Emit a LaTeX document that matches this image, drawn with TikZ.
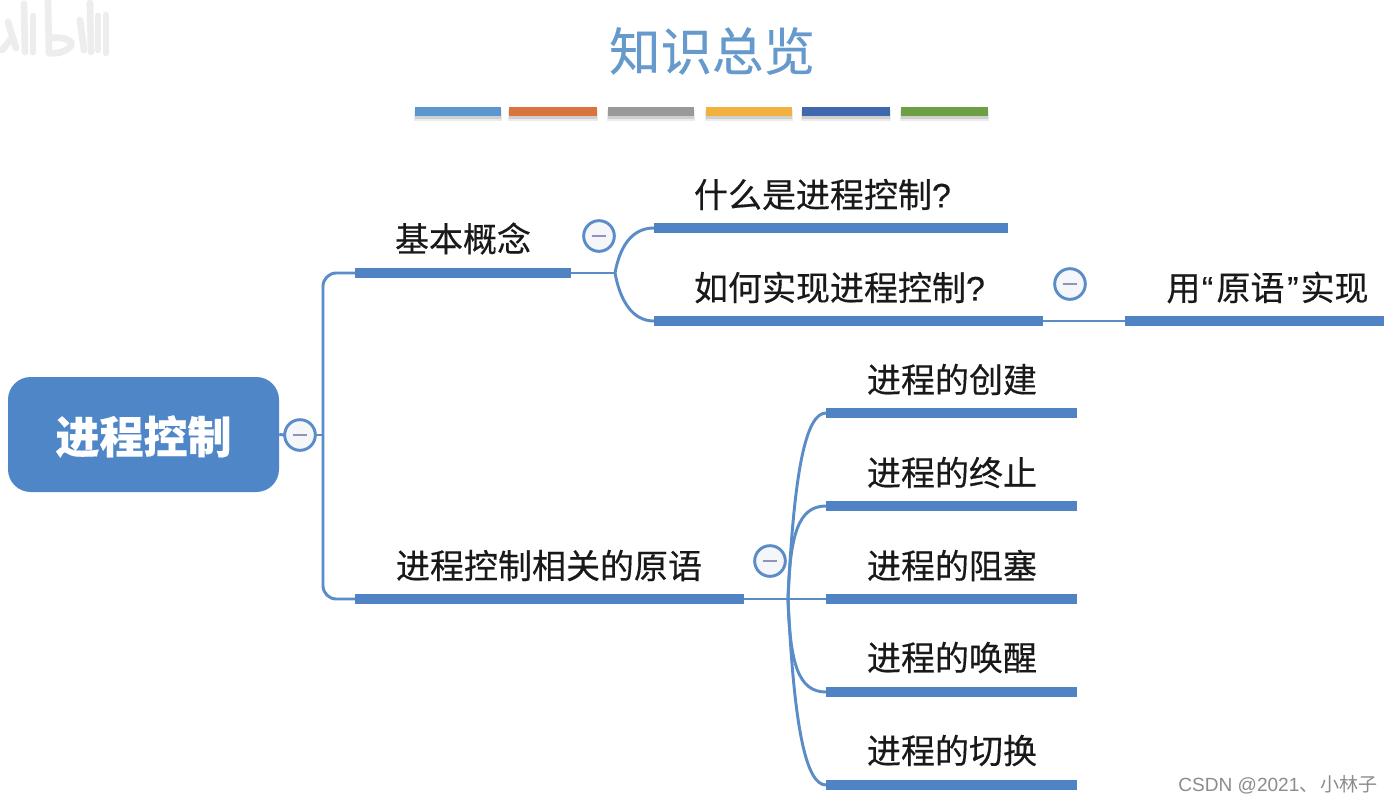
\documentclass[tikz,border=0pt]{standalone}
\usepackage{fontspec}
\setmainfont[FakeBold=0.35]{Noto Sans CJK SC}
\newfontfamily\latinfont[FakeBold=0.35]{Liberation Sans}
\newfontfamily\plainlatin{Liberation Sans}
\newfontfamily\plaincjk{Noto Sans CJK SC}
\definecolor{barblue}{HTML}{4F83C4}
\definecolor{linkblue}{HTML}{5A8CC8}
\definecolor{rootblue}{HTML}{4F86C8}
\definecolor{titleblue}{HTML}{6699CC}
\definecolor{minusc}{HTML}{8F93BC}
\definecolor{circfill}{HTML}{F5F6FA}
\definecolor{wm}{HTML}{EDEDED}
\definecolor{shadowa}{HTML}{EBEBEB}
\definecolor{shadowb}{HTML}{CFCFCF}
\definecolor{cA}{HTML}{5B96CF}
\definecolor{cB}{HTML}{D9743F}
\definecolor{cC}{HTML}{999999}
\definecolor{cD}{HTML}{F2B13F}
\definecolor{cE}{HTML}{4068AE}
\definecolor{cF}{HTML}{6F9F45}
\tikzset{
  barnode/.style={fill=barblue,draw=none,inner sep=0pt,outer sep=0pt,minimum height=7.6pt},
  conn/.style={draw=linkblue,line width=2.2pt},
  lbl/.style={inner sep=0pt,outer sep=0pt,font=\fontsize{25.5pt}{28pt}\selectfont,text=black!90},
  tog/.style={circle,draw=linkblue,line width=2.2pt,fill=circfill,minimum size=23pt,inner sep=0pt,outer sep=0pt},
  swatch/.style={draw=none,inner sep=0pt,outer sep=0pt,minimum width=64.5pt,minimum height=6.6pt},
  wmstroke/.style={draw=wm,line width=5pt,line cap=round}
}
\begin{document}
\begin{tikzpicture}[x=0.75pt,y=-0.75pt]
\useasboundingbox (0,0) rectangle (1392,804);
\fill[white] (0,0) rectangle (1392,804);
% watermark
\draw[wmstroke] (2,50) -- (12,38);
\draw[wmstroke] (8,22) -- (16,48);
\draw[wmstroke] (24,4) -- (25,52);
\draw[wmstroke] (33,16) -- (33,52);
\draw[wmstroke] (48,1) -- (49,53);
\draw[wmstroke] (50,38) .. controls (66,36) and (74,42) .. (71,46) .. controls (66,52) and (56,54) .. (50,53);
\draw[wmstroke] (80,20) -- (84,50);
\draw[wmstroke] (90,3) -- (91,52);
\draw[wmstroke] (98,16) -- (98,50);
\draw[wmstroke] (106,15) -- (106,53);
% title
\node[inner sep=0pt,font=\fontsize{38.6pt}{42pt}\selectfont,text=titleblue] (title) at (712,51) {知识总览};
% swatches
\foreach \xa/\wdt/\cc/\nm in {458/86/cA/sa,553/88/cB/sb,651/86/cC/sc,749/86/cD/sd,846/88/cE/se,944.5/87/cF/sf}{
  \fill[shadowa] (\xa-\wdt/2-1,110) rectangle (\xa+\wdt/2+1,121);
  \fill[shadowb] (\xa-\wdt/2,110) rectangle (\xa+\wdt/2,118.5);
  \node[swatch,fill=\cc,minimum width=\wdt*0.75pt] (\nm) at (\xa,111.5) {};
}
% root
\node[fill=rootblue,rounded corners=17pt,inner sep=0pt,minimum width=203.25pt,minimum height=86.25pt,text=white,font=\fontsize{33pt}{36pt}\selectfont\bfseries] (root) at (143.5,434.5) {\raisebox{0pt}[\dimexpr\height+3pt\relax]{进程控制}};
% bars
\node[barnode,minimum width=162pt] (b1) at (463,273) {};
\node[barnode,minimum width=291.75pt] (b2) at (549.5,599) {};
\node[barnode,minimum width=265.5pt] (b11) at (831,228) {};
\node[barnode,minimum width=291.75pt] (b12) at (848.5,321) {};
\node[barnode,minimum width=194.25pt] (b121) at (1254.5,321) {};
\node[barnode,minimum width=188.25pt] (p1) at (951.5,413) {};
\node[barnode,minimum width=188.25pt] (p2) at (951.5,506) {};
\node[barnode,minimum width=188.25pt] (p3) at (951.5,599) {};
\node[barnode,minimum width=188.25pt] (p4) at (951.5,692) {};
\node[barnode,minimum width=188.25pt] (p5) at (951.5,785) {};
% junctions
\coordinate (t0) at (323,435);
\coordinate (t1) at (323,273);
\coordinate (t2) at (323,599);
\coordinate (j1) at (615,273);
\coordinate (j2) at (788,599);
% connectors
\draw[conn,rounded corners=10pt] (b1.west) -- (t1) -- (t2) -- (b2.west);
\draw[conn] (b1.east) -- (j1);
\draw[conn] (j1) .. controls (620,246) and (632,228) .. (b11.west);
\draw[conn] (j1) .. controls (620,300) and (632,321) .. (b12.west);
\draw[conn] (b12.east) -- (b121.west);
\draw[conn] (b2.east) -- (j2);
\draw[conn] (j2) .. controls (794,470) and (806,413) .. (p1.west);
\draw[conn] (j2) .. controls (790,535) and (798,506) .. (p2.west);
\draw[conn] (j2) -- (p3.west);
\draw[conn] (j2) .. controls (790,663) and (798,692) .. (p4.west);
\draw[conn] (j2) .. controls (794,728) and (806,785) .. (p5.west);
% toggles
\node[tog] (c0) at (300,435) {};
\node[tog] (c1) at (599,236) {};
\node[tog] (c2) at (770,561) {};
\node[tog] (c3) at (1070,284) {};
\draw[conn] (root.east) -- (c0.west);
\draw[conn] (c0.east) -- (t0);
\foreach \c in {c0,c1,c2,c3}{
  \draw[minusc,line width=1.7pt] ([xshift=-5.5pt]\c.center) -- ([xshift=5.5pt]\c.center);
}
% labels
\node[lbl] (l1) at (463,238.5) {基本概念};
\node[lbl] (l2) at (549,565.5) {进程控制相关的原语};
\node[lbl,anchor=west] (l11) at (694,194.5) {什么是进程控制{\latinfont ?}};
\node[lbl,anchor=west] (l12) at (694,287.5) {如何实现进程控制{\latinfont ?}};
\node[lbl] (l121) at (1267.5,287.5) {用\kern1pt{\latinfont “}\kern2.5pt原语\kern2pt{\latinfont ”}\kern1.5pt实现};
\node[lbl] (lp1) at (952,379.5) {进程的创建};
\node[lbl] (lp2) at (952,472.5) {进程的终止};
\node[lbl] (lp3) at (952,565.5) {进程的阻塞};
\node[lbl] (lp4) at (952,657.5) {进程的唤醒};
\node[lbl] (lp5) at (952,750.5) {进程的切换};
% credit
\node[inner sep=0pt,anchor=east,text=black!45,font=\fontsize{14.3pt}{16pt}\selectfont] (credit) at (1378,785) {{\plainlatin CSDN @2021}{\plaincjk 、\kern1.5pt小林子}};
\end{tikzpicture}
\end{document}
